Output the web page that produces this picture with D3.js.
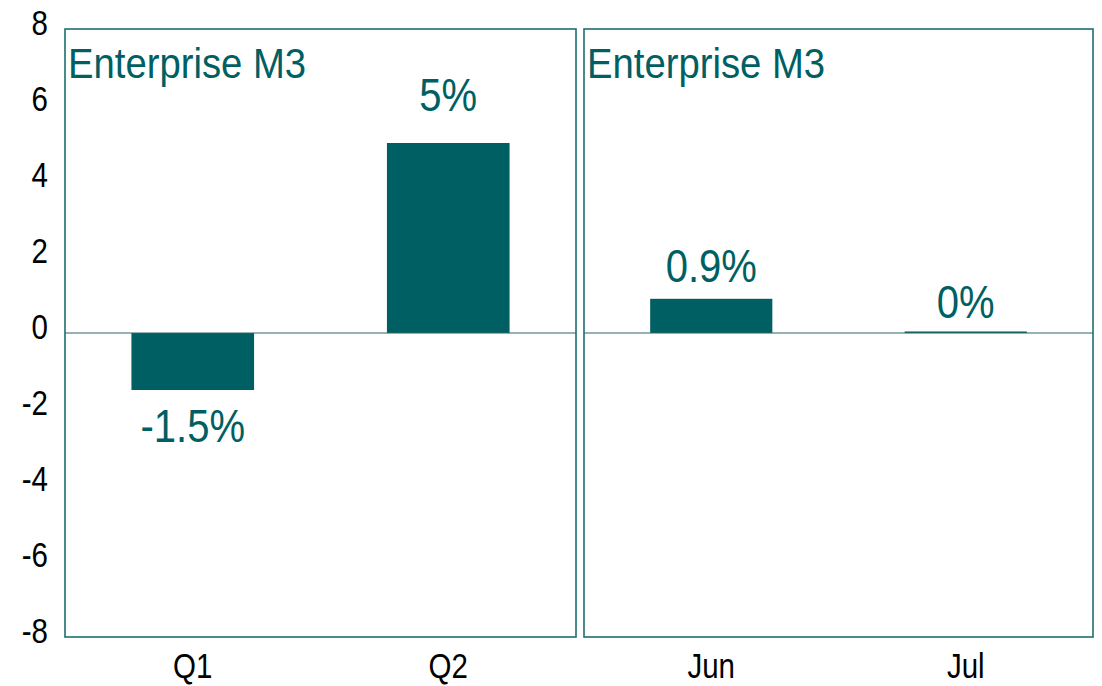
<!DOCTYPE html>
<html>
<head>
<meta charset="utf-8">
<script src="https://cdn.jsdelivr.net/npm/d3@7"></script>
<style>
  body { margin: 0; background: #fff; }
  svg text { font-family: "Liberation Sans Narrow", "Arial Narrow", "Liberation Sans", Arial, sans-serif; }
</style>
</head>
<body>
<svg id="chart" width="1102" height="686"></svg>
<script>
// chart data
const panelTitles = ['Enterprise M3', 'Enterprise M3'];
const quarterCats = ['Q1', 'Q2'];
const quarterValues = [-1.5, 5];
const quarterLabels = ['-1.5%', '5%'];
const monthCats = ['Jun', 'Jul'];
const monthValues = [0.9, 0.04];
const monthLabels = ['0.9%', '0%'];
const yTicks = [-8, -6, -4, -2, 0, 2, 4, 6, 8];

const teal = '#005f63';
const border = '#1d6e71';
const narrow = 0.82; // squeeze axis text to look like Arial Narrow

const svg = d3.select('#chart');
const plotTop = 29, plotBottom = 637;

const y = d3.scaleLinear().domain([-8, 8]).range([plotBottom, plotTop]);

// place a text with a horizontal squeeze
function squeezed(sel, x, yPos, s) {
  return sel.attr('transform', `translate(${x},${yPos}) scale(${s},1)`);
}

// y axis labels (left only, no tick marks)
const yAxis = svg.append('g')
  .attr('transform', 'translate(64,0)')
  .call(d3.axisLeft(y).tickValues(yTicks).tickSize(0).tickPadding(16).tickFormat(d => String(d)));
yAxis.select('.domain').remove();
yAxis.selectAll('text')
  .attr('font-size', 36)
  .attr('fill', '#000')
  .attr('x', -16 / narrow)
  .attr('dy', '0.16em')
  .attr('transform', `scale(${narrow},1)`);

const panels = [
  { x0: 65, x1: 576, title: panelTitles[0], cats: quarterCats, values: quarterValues, labels: quarterLabels },
  { x0: 584, x1: 1093, title: panelTitles[1], cats: monthCats, values: monthValues, labels: monthLabels }
];

panels.forEach(p => {
  const x = d3.scaleBand().domain(p.cats).range([p.x0, p.x1]).paddingInner(0.52).paddingOuter(0.26);
  const g = svg.append('g');

  // bars
  g.selectAll('rect.bar')
    .data(p.values)
    .enter().append('rect')
    .attr('class', 'bar')
    .attr('x', (d, i) => x(p.cats[i]))
    .attr('width', x.bandwidth())
    .attr('y', d => y(Math.max(0, d)))
    .attr('height', d => Math.abs(y(d) - y(0)))
    .attr('fill', teal);

  // zero line
  g.append('line')
    .attr('x1', p.x0).attr('x2', p.x1)
    .attr('y1', y(0)).attr('y2', y(0))
    .attr('stroke', '#2d6466').attr('stroke-width', 1.2);

  // value labels, gap grows a little with bar height
  g.selectAll('text.val')
    .data(p.values)
    .enter().append('text')
    .attr('class', 'val')
    .attr('text-anchor', 'middle')
    .attr('font-size', 46)
    .attr('fill', teal)
    .text((d, i) => p.labels[i])
    .each(function(d, i) {
      const cx = x(p.cats[i]) + x.bandwidth() / 2;
      const h = Math.abs(y(d) - y(0));
      const ty = d >= 0 ? y(d) - 13 - 0.1 * h : y(d) + 52;
      squeezed(d3.select(this), cx, ty, 0.87);
    });

  // category labels
  g.selectAll('text.cat')
    .data(p.cats)
    .enter().append('text')
    .attr('class', 'cat')
    .attr('text-anchor', 'middle')
    .attr('font-size', 36)
    .attr('fill', '#000')
    .text(d => d)
    .each(function(d) {
      squeezed(d3.select(this), x(d) + x.bandwidth() / 2, 678, narrow);
    });

  // frame
  g.append('rect')
    .attr('x', p.x0).attr('y', plotTop)
    .attr('width', p.x1 - p.x0).attr('height', plotBottom - plotTop)
    .attr('fill', 'none')
    .attr('stroke', border).attr('stroke-width', 1.6);

  // panel title
  squeezed(g.append('text'), p.x0 + 3, plotTop + 49, 0.89)
    .attr('font-size', 43)
    .attr('fill', teal)
    .text(p.title);
});
</script>
</body>
</html>
